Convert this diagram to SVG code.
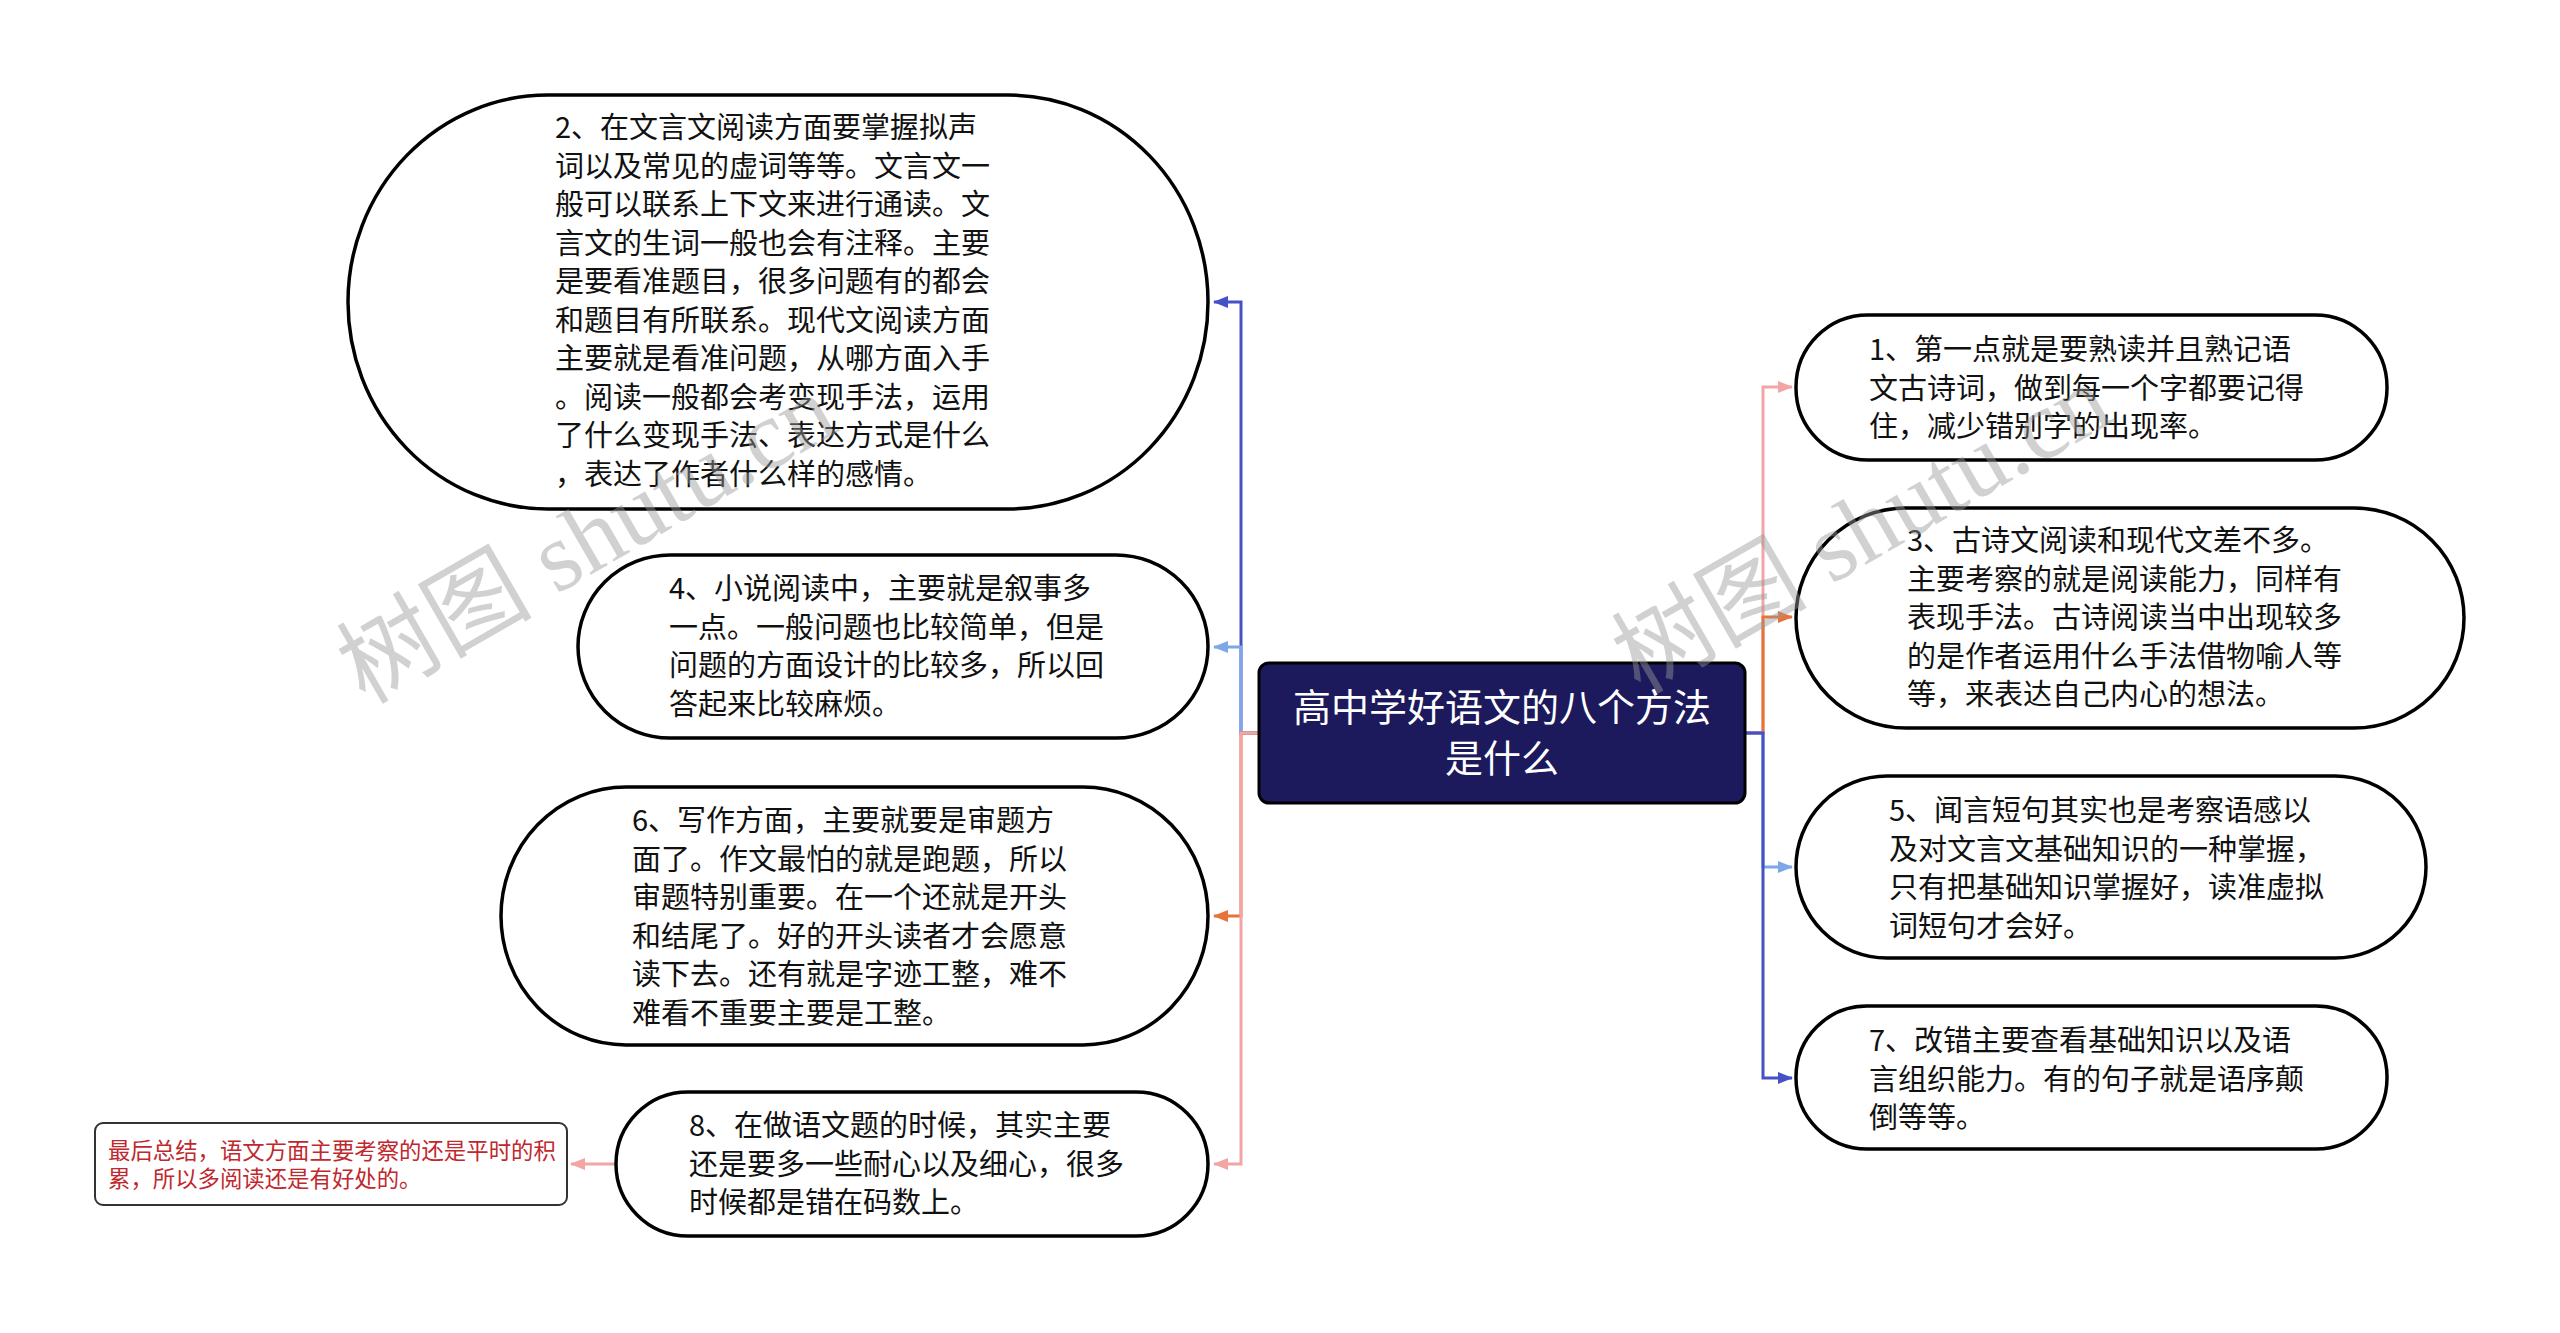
<svg xmlns="http://www.w3.org/2000/svg" width="2560" height="1333" viewBox="0 0 2560 1333">
<style>
.node{fill:#fff;stroke:#000;stroke-width:3.5}
.t{font-family:"Noto Sans CJK SC","Noto Sans",sans-serif;font-size:29px;fill:#111}
.c{fill:none;stroke-width:3}
.wm{font-family:"Liberation Serif","Noto Sans CJK SC",serif;font-size:98px;fill:#9a9a9a;fill-opacity:0.45}
</style>
<defs>
<marker id="aDB" markerUnits="userSpaceOnUse" markerWidth="16" markerHeight="14" refX="14" refY="7" orient="auto"><path d="M0,1 L15,7 L0,13 z" fill="#4551c4"/></marker>
<marker id="aLB" markerUnits="userSpaceOnUse" markerWidth="16" markerHeight="14" refX="14" refY="7" orient="auto"><path d="M0,1 L15,7 L0,13 z" fill="#7da7e8"/></marker>
<marker id="aOR" markerUnits="userSpaceOnUse" markerWidth="16" markerHeight="14" refX="14" refY="7" orient="auto"><path d="M0,1 L15,7 L0,13 z" fill="#e8733a"/></marker>
<marker id="aPK" markerUnits="userSpaceOnUse" markerWidth="16" markerHeight="14" refX="14" refY="7" orient="auto"><path d="M0,1 L15,7 L0,13 z" fill="#f2a5a5"/></marker>
</defs>
<rect width="2560" height="1333" fill="#fff"/>
<g id="connectors">
<path class="c" stroke="#4551c4" d="M1259,733 H1241 V302 H1214" marker-end="url(#aDB)"/>
<path class="c" stroke="#7da7e8" d="M1259,733 H1241 V647 H1214" marker-end="url(#aLB)"/>
<path class="c" stroke="#e8733a" d="M1259,733 H1241 V916 H1214" marker-end="url(#aOR)"/>
<path class="c" stroke="#f2a5a5" d="M1259,733 H1241 V1164 H1214" marker-end="url(#aPK)"/>
<path class="c" stroke="#f2a5a5" d="M1745,733 H1763 V387 H1792" marker-end="url(#aPK)"/>
<path class="c" stroke="#e8733a" d="M1745,733 H1763 V617 H1792" marker-end="url(#aOR)"/>
<path class="c" stroke="#7da7e8" d="M1745,733 H1763 V867 H1792" marker-end="url(#aLB)"/>
<path class="c" stroke="#4551c4" d="M1745,733 H1763 V1078 H1792" marker-end="url(#aDB)"/>
<path class="c" stroke="#f2a5a5" d="M616,1164 H571" marker-end="url(#aPK)"/>
</g>
<g id="center">
<rect x="1259" y="663" width="486" height="140" rx="10" fill="#1c1a5c" stroke="#000" stroke-width="3"/>
<text x="1502" y="721" text-anchor="middle" style="font-family:'Noto Sans CJK SC',sans-serif;font-size:38px;fill:#fff">高中学好语文的八个方法</text>
<text x="1502" y="772" text-anchor="middle" style="font-family:'Noto Sans CJK SC',sans-serif;font-size:38px;fill:#fff">是什么</text>
</g>
<g id="node2">
<rect class="node" x="348" y="95" width="860" height="414" rx="200" ry="207"/>
<text class="t"><tspan x="555" y="138">2、在文言文阅读方面要掌握拟声</tspan><tspan x="555" y="176.5">词以及常见的虚词等等。文言文一</tspan><tspan x="555" y="215">般可以联系上下文来进行通读。文</tspan><tspan x="555" y="253.5">言文的生词一般也会有注释。主要</tspan><tspan x="555" y="292">是要看准题目，很多问题有的都会</tspan><tspan x="555" y="330.5">和题目有所联系。现代文阅读方面</tspan><tspan x="555" y="369">主要就是看准问题，从哪方面入手</tspan><tspan x="555" y="407.5">。阅读一般都会考变现手法，运用</tspan><tspan x="555" y="446">了什么变现手法、表达方式是什么</tspan><tspan x="555" y="484.5">，表达了作者什么样的感情。</tspan></text>
</g>
<g id="node4">
<rect class="node" x="578" y="555" width="630" height="183" rx="92"/>
<text class="t"><tspan x="669" y="599">4、小说阅读中，主要就是叙事多</tspan><tspan x="669" y="637.5">一点。一般问题也比较简单，但是</tspan><tspan x="669" y="676">问题的方面设计的比较多，所以回</tspan><tspan x="669" y="714.5">答起来比较麻烦。</tspan></text>
</g>
<g id="node6">
<rect class="node" x="501" y="787" width="707" height="258" rx="125" ry="129"/>
<text class="t"><tspan x="632" y="831">6、写作方面，主要就要是审题方</tspan><tspan x="632" y="869.5">面了。作文最怕的就是跑题，所以</tspan><tspan x="632" y="908">审题特别重要。在一个还就是开头</tspan><tspan x="632" y="946.5">和结尾了。好的开头读者才会愿意</tspan><tspan x="632" y="985">读下去。还有就是字迹工整，难不</tspan><tspan x="632" y="1023.5">难看不重要主要是工整。</tspan></text>
</g>
<g id="node8">
<rect class="node" x="616" y="1092" width="592" height="144" rx="72"/>
<text class="t"><tspan x="689" y="1136">8、在做语文题的时候，其实主要</tspan><tspan x="689" y="1174.5">还是要多一些耐心以及细心，很多</tspan><tspan x="689" y="1213">时候都是错在码数上。</tspan></text>
</g>
<g id="summary">
<rect x="95" y="1123" width="472" height="82" rx="8" fill="#fff" stroke="#333" stroke-width="2"/>
<text style="font-family:'Noto Sans CJK SC',sans-serif;font-size:22.4px;fill:#c0282d"><tspan x="108" y="1159">最后总结，语文方面主要考察的还是平时的积</tspan><tspan x="108" y="1187">累，所以多阅读还是有好处的。</tspan></text>
</g>
<g id="node1">
<rect class="node" x="1796" y="315" width="591" height="145" rx="72"/>
<text class="t"><tspan x="1869" y="360">1、第一点就是要熟读并且熟记语</tspan><tspan x="1869" y="398.5">文古诗词，做到每一个字都要记得</tspan><tspan x="1869" y="437">住，减少错别字的出现率。</tspan></text>
</g>
<g id="node3">
<rect class="node" x="1796" y="508" width="668" height="220" rx="110"/>
<text class="t"><tspan x="1907" y="551">3、古诗文阅读和现代文差不多。</tspan><tspan x="1907" y="589.5">主要考察的就是阅读能力，同样有</tspan><tspan x="1907" y="628">表现手法。古诗阅读当中出现较多</tspan><tspan x="1907" y="666.5">的是作者运用什么手法借物喻人等</tspan><tspan x="1907" y="705">等，来表达自己内心的想法。</tspan></text>
</g>
<g id="node5">
<rect class="node" x="1796" y="776" width="630" height="182" rx="91"/>
<text class="t"><tspan x="1889" y="821">5、闻言短句其实也是考察语感以</tspan><tspan x="1889" y="859.5">及对文言文基础知识的一种掌握，</tspan><tspan x="1889" y="898">只有把基础知识掌握好，读准虚拟</tspan><tspan x="1889" y="936.5">词短句才会好。</tspan></text>
</g>
<g id="node7">
<rect class="node" x="1796" y="1006" width="591" height="143" rx="71"/>
<text class="t"><tspan x="1869" y="1051">7、改错主要查看基础知识以及语</tspan><tspan x="1869" y="1089.5">言组织能力。有的句子就是语序颠</tspan><tspan x="1869" y="1128">倒等等。</tspan></text>
</g>
<g id="watermark">
<text class="wm" transform="translate(365,705) rotate(-30)">树图 shutu.cn</text>
<text class="wm" transform="translate(1640,695) rotate(-30)">树图 shutu.cn</text>
</g>
</svg>
